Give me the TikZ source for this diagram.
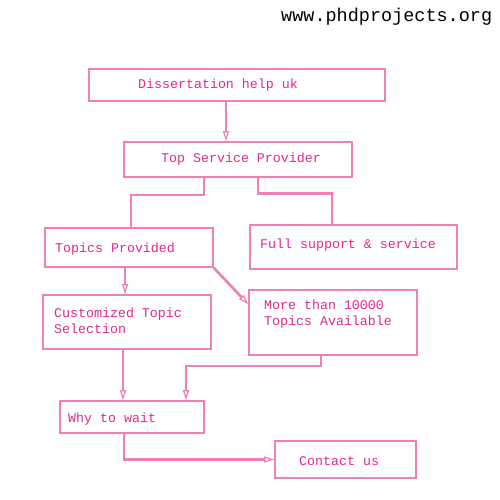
\documentclass[tikz,border=0pt]{standalone}
\usepackage{fontspec}
\setmonofont{Liberation Mono}
\usetikzlibrary{arrows.meta,calc}
\definecolor{lpink}{RGB}{240,128,180}
\definecolor{tpink}{RGB}{228,40,140}
\begin{document}
\begin{tikzpicture}[x=1pt,y=-1pt,
  box/.style={draw=lpink,line width=1.6pt,rectangle,inner sep=0pt},
  txt/.style={anchor=west,inner sep=0pt,text=tpink,font=\ttfamily\fontsize{13.3}{16}\selectfont,align=left},
  conn/.style={draw=lpink,line width=2.6pt},
  arr/.style={conn,-{Triangle[open,length=10pt,width=6pt,line width=1.2pt]}}]
\useasboundingbox[fill=white] (0,0) rectangle (500,500);
\node[anchor=west,inner sep=0pt,font=\ttfamily\fontsize{18.5}{20}\selectfont] (hdr) at (281,17) {www.phdprojects.org};
\node[box,minimum width=296pt,minimum height=32pt] (b1) at (237,85) {};
\node[box,minimum width=228pt,minimum height=35pt] (b2) at (238,159.5) {};
\node[box,minimum width=168pt,minimum height=39pt] (b3) at (129,247.5) {};
\node[box,minimum width=207pt,minimum height=44pt] (b4) at (353.5,247) {};
\node[box,minimum width=168pt,minimum height=54pt] (b5) at (127,322) {};
\node[box,minimum width=168pt,minimum height=65pt] (b6) at (333,322.5) {};
\node[box,minimum width=144pt,minimum height=32pt] (b7) at (132,417) {};
\node[box,minimum width=141pt,minimum height=37pt] (b8) at (345.5,459.5) {};
\node[txt] (t1) at (138,85) {Dissertation help uk};
\node[txt] (t2) at (161,159) {Top Service Provider};
\node[txt] (t3) at (55,249) {Topics Provided};
\node[txt] (t4) at (260,245) {Full support \& service};
\node[txt] (t5) at (54,321) {Customized Topic\\Selection};
\node[txt] (t6) at (264,314) {More than 10000\\Topics Available};
\node[txt] (t7) at (68,419) {Why to wait};
\node[txt] (t8) at (299,461) {Contact us};
\draw[arr] ([xshift=-11pt]b1.south) -- ([xshift=-12pt]b2.north);
\draw[conn] ([xshift=-34pt]b2.south) -- ++(0,17) -| ([xshift=2pt]b3.north);
\draw[conn] ([xshift=-21.5pt]b4.north) -- ++(0,-31) -| ([xshift=20pt]b2.south);
\draw[arr] (b3.south east) -- ([yshift=-15pt]b6.north west);
\draw[arr] ([xshift=-4pt]b3.south) -- ([xshift=-2pt]b5.north);
\draw[arr] ([xshift=-4pt]b5.south) -- ([xshift=-9pt]b7.north);
\draw[arr] ([xshift=-12pt]b6.south) -- ++(0,10) -| ([xshift=54pt]b7.north);
\draw[arr] ([xshift=-8pt]b7.south) |- (b8.west);
\end{tikzpicture}
\end{document}
